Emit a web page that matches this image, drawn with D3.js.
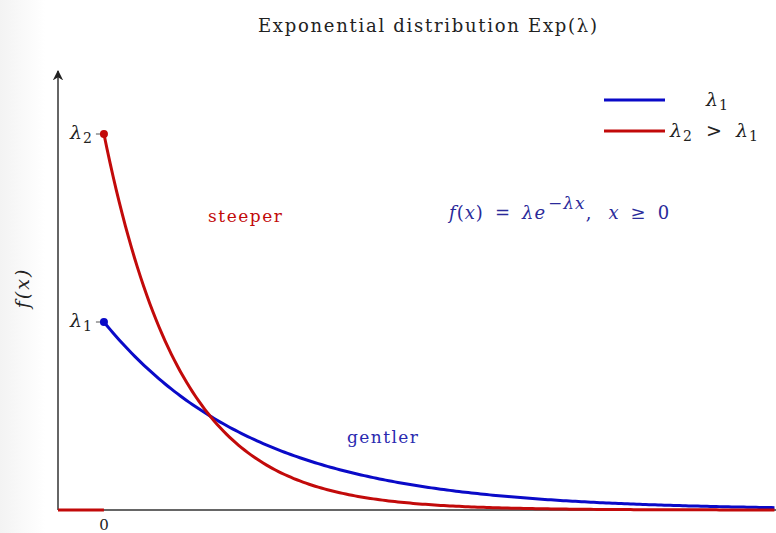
<!DOCTYPE html>
<html>
<head>
<meta charset="utf-8">
<script src="https://cdn.jsdelivr.net/npm/d3@7"></script>
<style>
  body { margin: 0; background: #fff; }
  text { font-family: "DejaVu Serif", "Liberation Serif", serif; }
</style>
</head>
<body>
<svg id="chart" width="776" height="533"></svg>
<script>
// rates of the two curves
const lambdas = [1, 2];
const seriesNames = ["λ1", "λ2"];
const seriesColors = ["#0a0ac8", "#c20a0a"];
const tickLabels = ["λ1", "λ2"];
const xTickLabels = ["0"];
const xDomain = [-0.3, 4.39];

const drawChart = function () {
  let svg = d3.select("svg#chart");
  let width = +svg.attr("width");
  let height = +svg.attr("height");

  // faint shading on the left edge
  const defs = svg.append("defs");
  const grad = defs.append("linearGradient").attr("id", "edge");
  grad.append("stop").attr("offset", "0%").attr("stop-color", "#f3f3f3");
  grad.append("stop").attr("offset", "100%").attr("stop-color", "#ffffff");
  svg.append("rect").attr("width", 45).attr("height", height).style("fill", "url(#edge)");

  defs.append("marker")
    .attr("id", "arrow")
    .attr("viewBox", "0 0 10 10")
    .attr("refX", 9).attr("refY", 5)
    .attr("markerWidth", 7).attr("markerHeight", 7)
    .attr("orient", "auto")
    .append("path")
    .attr("d", "M0,0 L10,5 L0,10 L3,5 Z")
    .style("fill", "#222");

  const x = d3.scaleLinear().domain(xDomain).range([58, width]);
  const y = d3.scaleLinear().domain([0, 2]).range([510, 134]);

  // title
  svg.append("text")
    .attr("x", 258).attr("y", 32)
    .attr("textLength", 339).attr("lengthAdjust", "spacing")
    .style("font-size", "18px")
    .style("fill", "#222")
    .text("Exponential distribution Exp(λ)");

  // axes
  svg.append("line")
    .attr("x1", x(xDomain[0])).attr("x2", width)
    .attr("y1", y(0)).attr("y2", y(0))
    .style("stroke", "#333").style("stroke-width", 1.5);
  svg.append("line")
    .attr("x1", x(xDomain[0])).attr("x2", x(xDomain[0]))
    .attr("y1", y(0)).attr("y2", 71)
    .attr("marker-end", "url(#arrow)")
    .style("stroke", "#333").style("stroke-width", 1.5);

  // y axis label
  svg.append("text")
    .attr("transform", "translate(29,288) rotate(-90)")
    .attr("text-anchor", "middle")
    .style("font-size", "19px")
    .style("letter-spacing", "2px")
    .style("font-style", "italic")
    .style("fill", "#222")
    .text("f(x)");

  // y ticks at lambda values
  lambdas.forEach((l, i) => {
    svg.append("line")
      .attr("x1", x(0) - 8).attr("x2", x(0) - 3)
      .attr("y1", y(l)).attr("y2", y(l))
      .style("stroke", "#555").style("stroke-width", 1);
    const t = svg.append("text")
      .attr("x", x(0) - 12).attr("y", y(l) + 5)
      .attr("text-anchor", "end")
      .style("font-size", "19px")
      .style("fill", "#222");
    t.append("tspan").style("font-style", "italic").text(tickLabels[i].charAt(0));
    t.append("tspan").attr("dx", 1).attr("dy", 4).style("font-size", "14px").text(tickLabels[i].slice(1));
  });

  svg.append("text")
    .attr("x", x(0)).attr("y", 530)
    .attr("text-anchor", "middle")
    .style("font-size", "15px")
    .style("fill", "#222")
    .text(xTickLabels[0]);

  // density curves
  const xs = d3.range(0, xDomain[1] + 0.001, 0.02);
  const line = d3.line().x(d => x(d[0])).y(d => y(d[1]));

  // zero part for x < 0
  svg.append("line")
    .attr("x1", x(xDomain[0])).attr("x2", x(0))
    .attr("y1", y(0)).attr("y2", y(0))
    .style("stroke", seriesColors[1]).style("stroke-width", 3);

  lambdas.forEach((l, i) => {
    const pts = xs.map(v => [v, l * Math.exp(-l * v)]);
    svg.append("path")
      .attr("d", line(pts))
      .style("fill", "none")
      .style("stroke", seriesColors[i])
      .style("stroke-width", 3);
    svg.append("circle")
      .attr("cx", x(0)).attr("cy", y(l)).attr("r", 4)
      .style("fill", seriesColors[i]);
  });

  // annotations
  svg.append("text")
    .attr("x", 208).attr("y", 222)
    .attr("textLength", 74).attr("lengthAdjust", "spacing")
    .style("font-size", "17px")
    .style("fill", seriesColors[1])
    .text("steeper");
  svg.append("text")
    .attr("x", 347).attr("y", 443)
    .attr("textLength", 71).attr("lengthAdjust", "spacing")
    .style("font-size", "17px")
    .style("fill", "#2a2ab0")
    .text("gentler");

  const f = svg.append("text")
    .attr("x", 449).attr("y", 219)
    .style("font-size", "18px")
    .style("letter-spacing", "1px")
    .style("fill", "#2a2a9a");
  f.append("tspan").style("font-style", "italic").text("f");
  f.append("tspan").text("(");
  f.append("tspan").style("font-style", "italic").text("x");
  f.append("tspan").text(")");
  f.append("tspan").attr("dx", 11).text("=");
  f.append("tspan").attr("dx", 11).style("font-style", "italic").text("λe");
  f.append("tspan").attr("dx", 2).attr("dy", -10).style("font-size", "17px").style("font-style", "italic").text("−λx");
  f.append("tspan").attr("dy", 10).text(",");
  f.append("tspan").attr("dx", 16).style("font-style", "italic").text("x");
  f.append("tspan").attr("dx", 11).text("≥");
  f.append("tspan").attr("dx", 11).text("0");

  // legend
  const legend = svg.append("g");
  lambdas.forEach((l, i) => {
    const ly = 100 + i * 31;
    legend.append("line")
      .attr("x1", 604).attr("x2", 665)
      .attr("y1", ly).attr("y2", ly)
      .style("stroke", seriesColors[i]).style("stroke-width", 3);
  });
  const l1 = legend.append("text")
    .attr("x", 706).attr("y", 106)
    .style("font-size", "19px").style("fill", "#222");
  l1.append("tspan").style("font-style", "italic").text("λ");
  l1.append("tspan").attr("dx", 1).attr("dy", 4).style("font-size", "14px").text("1");

  const l2 = legend.append("text")
    .attr("x", 670).attr("y", 137)
    .style("font-size", "19px").style("fill", "#222");
  l2.append("tspan").style("font-style", "italic").text("λ");
  l2.append("tspan").attr("dx", 1).attr("dy", 4).style("font-size", "14px").text("2");
  l2.append("tspan").attr("dx", 14).attr("dy", -4).text(">");
  l2.append("tspan").attr("dx", 14).style("font-style", "italic").text("λ");
  l2.append("tspan").attr("dx", 1).attr("dy", 4).style("font-size", "14px").text("1");
};

drawChart();
</script>
</body>
</html>
